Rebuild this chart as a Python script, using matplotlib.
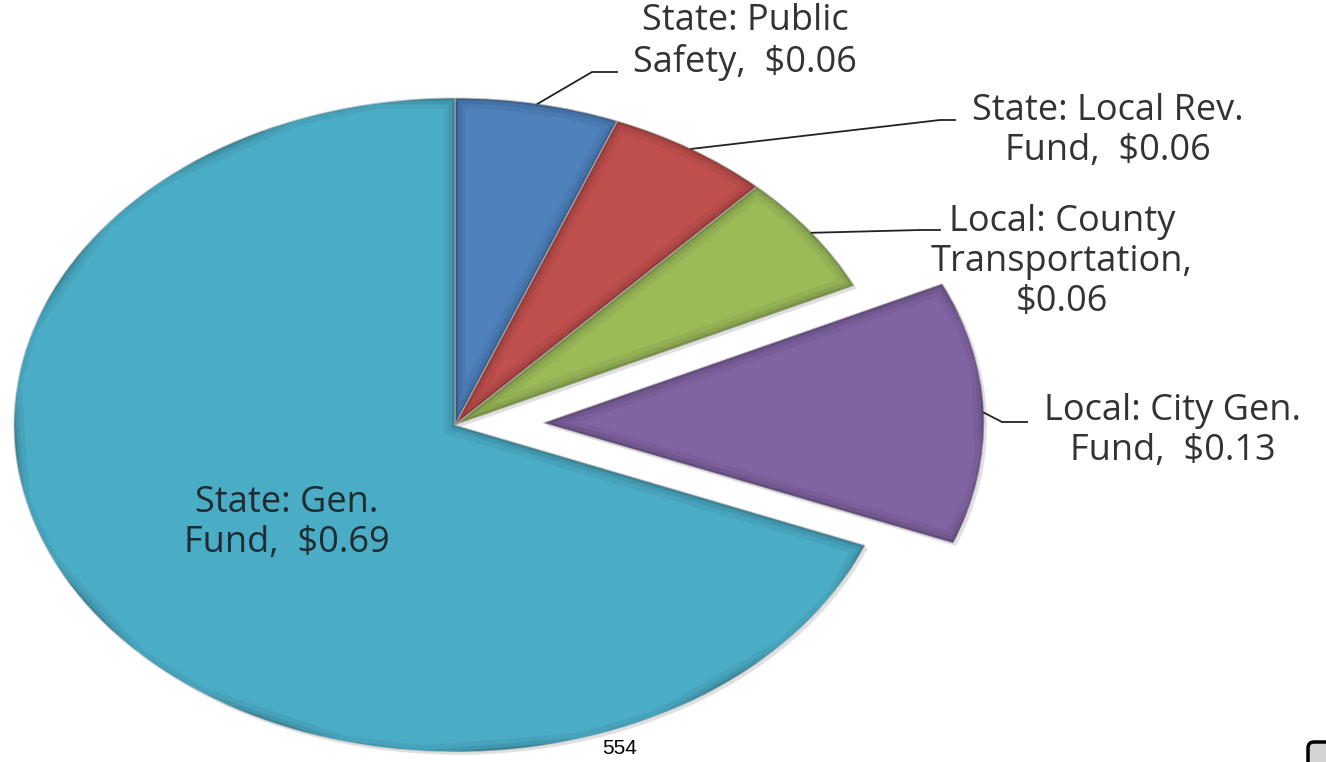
import numpy as np
import matplotlib.pyplot as plt
import matplotlib.patheffects as pe
from matplotlib.patches import FancyBboxPatch
from matplotlib.transforms import IdentityTransform

# dados (centavos por dólar)
nomes = ["State: Public\nSafety", "State: Local Rev.\nFund", "Local: County\nTransportation",
         "Local: City Gen.\nFund", "State: Gen.\nFund"]
separadores = [",  ", ",  ", ",\n", ",  ", ",  "]
valores = [0.06, 0.06, 0.06, 0.13, 0.69]
cores = ["#4F81BD", "#C0504D", "#9BBB59", "#8064A2", "#4BACC6"]
destaque = [0, 0, 0, 0.2, 0]
pagina = "554"

rotulos = [n + s + f"${v:.2f}" for n, s, v in zip(nomes, separadores, valores)]

# layout em pixels da figura (origem no canto superior esquerdo)
W, H = 1326, 762
CX, CY, RX, RY = 455, 425, 441, 327
pos_texto = [(745, 42), (1108, 131), (1062, 262), (1173, 431), (287, 523)]
joelhos = [((592, 72), (617, 72)), ((940, 120), (955, 120)), ((920, 230), (940, 230)),
           ((1002, 422), (1027, 422)), None]


def px_para_dados(px, py):
    return (px - CX) / RX, (CY - py) / RY


fig = plt.figure(figsize=(W / 100, H / 100), dpi=100)
ax = fig.add_axes([0, 0, 1, 1])

wedges, _ = ax.pie(valores, colors=cores, explode=destaque, startangle=90,
                   counterclock=False, radius=1.0,
                   wedgeprops=dict(linewidth=0.8, edgecolor="#d8d8d8"))
ax.set_aspect("auto")
ax.set_xlim(-CX / RX, (W - CX) / RX)
ax.set_ylim(-(H - CY) / RY, CY / RY)
ax.axis("off")

# sombra externa + sombreado interno (imita o bisel do Excel)
for w in wedges:
    w.set_path_effects([pe.withSimplePatchShadow(offset=(2, -2), shadow_rgbFace="black", alpha=0.12)])
    for lw, a in [(16, 0.05), (9, 0.07), (4, 0.12)]:
        borda = plt.Polygon(w.get_path().vertices, closed=True, transform=w.get_transform(),
                            facecolor="none", edgecolor="black", linewidth=lw, alpha=a)
        ax.add_patch(borda)
        borda.set_clip_path(w)

cor_texto = "#333333"
for i, (w, rot) in enumerate(zip(wedges, rotulos)):
    tx, ty = px_para_dados(*pos_texto[i])
    ax.text(tx, ty, rot, ha="center", va="center", fontsize=26, family="Open Sans",
            color="#1f2d33" if joelhos[i] is None else cor_texto, linespacing=1.16)
    if joelhos[i] is None:
        continue
    ang = np.deg2rad((w.theta1 + w.theta2) / 2)
    cx, cy = w.center
    x0, y0 = cx + w.r * np.cos(ang), cy + w.r * np.sin(ang)
    (kx, ky), (ex, ey) = joelhos[i]
    kx, ky = px_para_dados(kx, ky)
    ex, ey = px_para_dados(ex, ey)
    ax.plot([x0, kx, ex], [y0, ky, ey], color="#222222", linewidth=1.3)

fig.text(620 / W, 1 - 748 / H, pagina, ha="center", va="center", fontsize=15,
         family="Liberation Sans", color="black")

caixa = FancyBboxPatch((1308, -20), 60, 40, boxstyle="round,pad=0,rounding_size=6",
                       transform=IdentityTransform(), facecolor="#d4d4d4",
                       edgecolor="black", linewidth=2.5)
fig.patches.append(caixa)

fig.savefig("out.png", dpi=100)
